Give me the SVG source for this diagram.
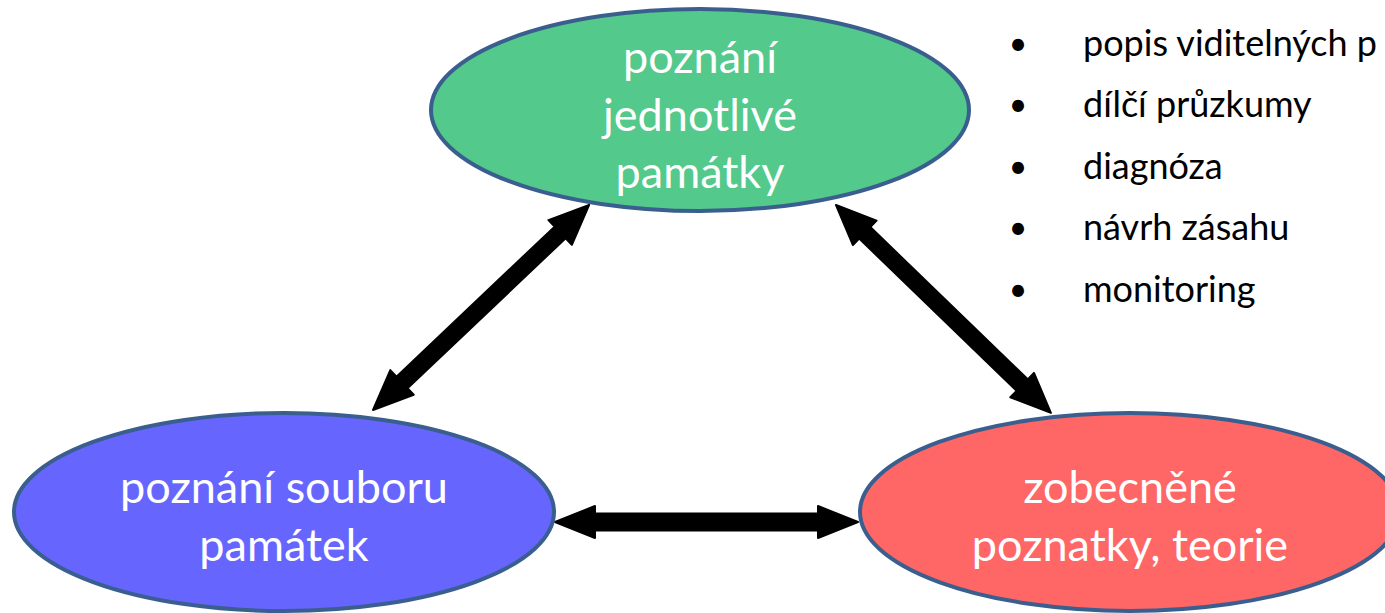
<svg xmlns="http://www.w3.org/2000/svg" width="1385" height="613" viewBox="0 0 1385 613">
<style>
.node{stroke:#3A5F8F;stroke-width:4}
.lbl{font-family:Lato,"Open Sans","Liberation Sans",sans-serif;font-size:45px;fill:#fff;text-anchor:middle}
.bul{font-family:Lato,"Open Sans","Liberation Sans",sans-serif;font-size:36px;fill:#000}
.dot{font-family:Lato,"Open Sans","Liberation Sans",sans-serif;font-size:32px;fill:#000;text-anchor:middle}
.arr{fill:#000;stroke:#000;stroke-width:2;stroke-linejoin:round}
</style>
<rect width="1385" height="613" fill="#fff"/>
<g id="connectors">
<polygon class="arr" transform="translate(555,522)" points="0,0 40,-16 40,-8.5 263,-8.5 263,-16 303,0 263,16 263,8.5 40,8.5 40,16"/>
<polygon class="arr" transform="translate(373,410) rotate(-43.5)" points="0,0 40,-17 40,-8 258,-8 258,-17 298,0 258,17 258,8 40,8 40,17"/>
<polygon class="arr" transform="translate(836,205) rotate(44.05)" points="0,0 40,-17 40,-8 259,-8 259,-17 299,0 259,17 259,8 40,8 40,17"/>
</g>
<g id="node-top">
<ellipse class="node" cx="700" cy="110" rx="269" ry="101" fill="#53C98B"/>
<text class="lbl" x="700" y="73">poznání</text>
<text class="lbl" x="700" y="131">jednotlivé</text>
<text class="lbl" x="700" y="188">památky</text>
</g>
<g id="node-left">
<ellipse class="node" cx="284" cy="512" rx="270" ry="99" fill="#6666FF"/>
<text class="lbl" x="284" y="503">poznání souboru</text>
<text class="lbl" x="284" y="561">památek</text>
</g>
<g id="node-right">
<ellipse class="node" cx="1130" cy="512" rx="270" ry="99" fill="#FF6666"/>
<text class="lbl" x="1130" y="503">zobecněné</text>
<text class="lbl" x="1130" y="561">poznatky, teorie</text>
</g>
<g id="list">
<text class="dot" x="1018" y="55">•</text><text class="bul" x="1083" y="56">popis viditelných p</text>
<text class="dot" x="1018" y="116">•</text><text class="bul" x="1083" y="117">dílčí průzkumy</text>
<text class="dot" x="1018" y="178">•</text><text class="bul" x="1083" y="179">diagnóza</text>
<text class="dot" x="1018" y="239">•</text><text class="bul" x="1083" y="240">návrh zásahu</text>
<text class="dot" x="1018" y="301">•</text><text class="bul" x="1083" y="302">monitoring</text>
</g>
</svg>
